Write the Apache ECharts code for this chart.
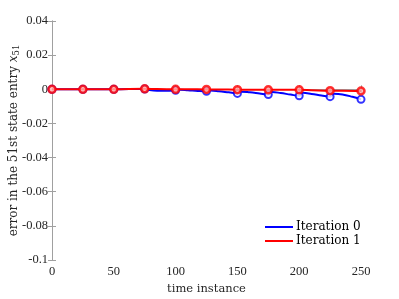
<!DOCTYPE html>
<html><head><meta charset="utf-8">
<script src="https://cdn.jsdelivr.net/npm/echarts@6/dist/echarts.min.js"></script>
<style>html,body{margin:0;padding:0;background:#fff}#c{width:399px;height:299px}</style>
</head><body><div id="c"></div>
<script>
// time stamps of the continuous curves
const tBlue = [0,25,50,75,78,85,92,100,103,110,118,125,128,135,143,150,153,160,168,175,178,185,193,200,203,210,218,225,228,235,243,250];
const blueVals = [0,0,0,0.0002,-0.0004,-0.0009,-0.0009,-0.0006,-0.0003,-0.0006,-0.0010,-0.0012,-0.0007,-0.0011,-0.0018,-0.0024,-0.0014,-0.0018,-0.0025,-0.0031,-0.0016,-0.0022,-0.0031,-0.0038,-0.0021,-0.0027,-0.0036,-0.0043,-0.0026,-0.0030,-0.0044,-0.0059];
const tRed = [0,25,50,75,85,100,110,125,135,150,160,175,185,200,210,225,235,250];
const redVals = [0,0,0,0.0003,0.0001,0,0,-0.0001,-0.0001,-0.0002,-0.0002,-0.0003,-0.0002,-0.0003,-0.0005,-0.0008,-0.0008,-0.0010];
// marker instants and values
const markT = [0,25,50,75,100,125,150,175,200,225,250];
const blueMarks = [0,0,0,0.0002,-0.0006,-0.0012,-0.0024,-0.0031,-0.0038,-0.0043,-0.0059];
const redMarks = [0,0,0,0.0003,0,-0.0001,-0.0002,-0.0003,-0.0003,-0.0008,-0.0010];
const xTicks = [0,50,100,150,200,250];
const yMin = -0.1, yMax = 0.04, yStep = 0.02;
const names = ['Iteration 0','Iteration 1'];

const pairs = (a,b)=>a.map((x,i)=>[x,b[i]]);
const font = 'Liberation Serif, DejaVu Serif, serif';
const font2 = 'DejaVu Serif, serif';
const axisLine = {lineStyle:{color:'#a0a0a0',width:1}};
const tick = {inside:true,length:4,lineStyle:{color:'#a0a0a0'}};
const chart = echarts.init(document.getElementById('c'));
chart.setOption({
  animation:false,
  textStyle:{fontFamily:font},
  grid:{left:52,right:38,top:21,bottom:39,containLabel:false,outerBoundsMode:'none'},
  legend:{
    data:names, orient:'vertical', left:260, top:216, itemWidth:28, itemHeight:2, itemGap:2,
    icon:'rect',
    textStyle:{fontFamily:font2,fontSize:12,color:'#000',padding:[0,0,0,-2]}
  },
  xAxis:[{
    type:'value', min:0, max:250, interval:50,
    name:'time instance', nameLocation:'middle', nameGap:23, nameMoveOverlap:false,
    nameTextStyle:{fontFamily:font2,fontSize:11.5,color:'#262626'},
    axisLine:axisLine, axisTick:tick,
    axisLabel:{fontFamily:font,fontSize:12.5,color:'#262626',margin:5},
    splitLine:{show:false}
  },{
    type:'value', min:0, max:250, interval:50, position:'top',
    axisLine:axisLine, axisTick:tick,
    axisLabel:{show:false}, splitLine:{show:false}
  }],
  yAxis:[{
    type:'value', min:yMin, max:yMax, interval:yStep,
    name:'{a|error in the 51st state entry }{x|x}{s|51}', nameLocation:'middle', nameGap:31, nameMoveOverlap:false,
    nameTextStyle:{fontFamily:font2,fontSize:12,color:'#262626',
      rich:{a:{fontFamily:font2,fontSize:12,color:'#262626'},
            x:{fontFamily:font2,fontSize:12,fontStyle:'italic',color:'#262626'},
            s:{fontFamily:font2,fontSize:8.5,color:'#262626',padding:[5,0,0,0]}}},
    axisLine:axisLine, axisTick:tick,
    axisLabel:{fontFamily:font,fontSize:12.5,color:'#262626',margin:4,
      formatter:v=>String(+v.toFixed(3))},
    splitLine:{show:false}
  },{
    type:'value', min:yMin, max:yMax, interval:yStep, position:'right',
    axisLine:axisLine, axisTick:tick,
    axisLabel:{show:false}, splitLine:{show:false}
  }],
  series:[
    {name:names[0],type:'line',data:pairs(tBlue,blueVals),smooth:0.4,showSymbol:false,
     lineStyle:{color:'#0000ff',width:2},itemStyle:{color:'#0000ff'},z:2},
    {name:'m0',type:'scatter',data:pairs(markT,blueMarks),symbol:'circle',symbolSize:7,
     itemStyle:{color:'#ffffff',borderColor:'#0000ff',borderWidth:2},z:3},
    {name:names[1],type:'line',data:pairs(tRed,redVals),smooth:0.4,showSymbol:false,
     lineStyle:{color:'#ff0000',width:2},itemStyle:{color:'#ff0000'},z:4},
    {name:'m1',type:'scatter',data:pairs(markT,redMarks),symbol:'circle',symbolSize:7,
     itemStyle:{color:'#ffb0b0',borderColor:'#ff0000',borderWidth:2.5},z:5}
  ]
});
</script></body></html>
